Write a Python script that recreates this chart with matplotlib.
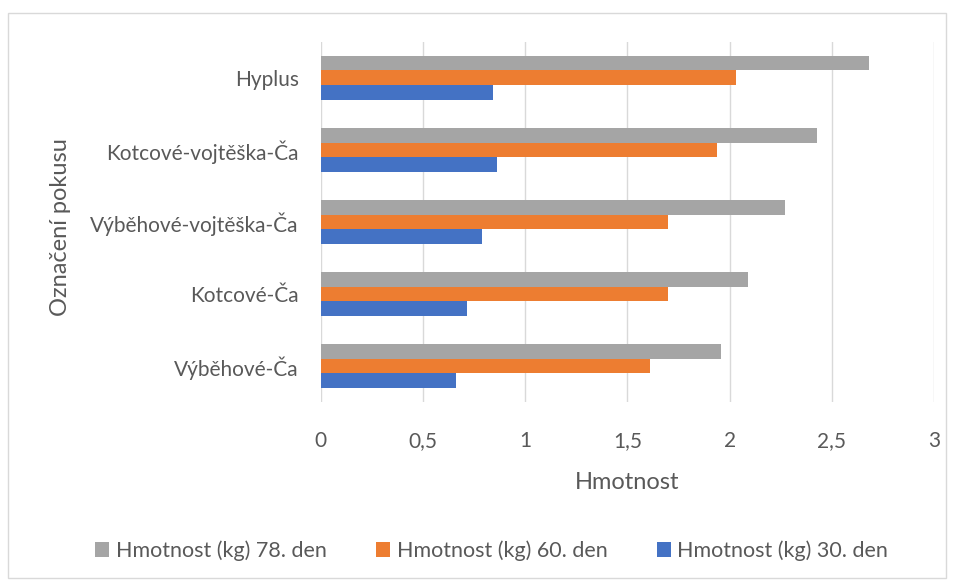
import numpy as np
import matplotlib.pyplot as plt
from matplotlib.patches import Rectangle

categories = ["Výběhové-Ča", "Kotcové-Ča", "Výběhové-vojtěška-Ča",
              "Kotcové-vojtěška-Ča", "Hyplus"]
den30 = [0.66, 0.715, 0.79, 0.86, 0.84]
den60 = [1.61, 1.70, 1.70, 1.94, 2.03]
den78 = [1.96, 2.09, 2.27, 2.43, 2.68]
series_names = ["Hmotnost (kg) 30. den", "Hmotnost (kg) 60. den", "Hmotnost (kg) 78. den"]
xticks = [0, 0.5, 1, 1.5, 2, 2.5, 3]
xtick_labels = ["0", "0,5", "1", "1,5", "2", "2,5", "3"]

plt.rcParams['font.family'] = ['Lato', 'DejaVu Sans']
text_col = '#595959'

fig = plt.figure(figsize=(9.55, 5.81), dpi=100)
fig.patches.append(Rectangle((0.008, 0.005), 0.983, 0.972, transform=fig.transFigure,
                             fill=False, edgecolor='#d9d9d9', linewidth=1))
ax = fig.add_axes([0.336, 0.308, 0.642, 0.62])

y = np.arange(len(categories))
h = 0.205
bars = []
bars.append(ax.barh(y - h, den30, height=h, color='#4472C4', label=series_names[0]))
bars.append(ax.barh(y, den60, height=h, color='#ED7D31', label=series_names[1]))
bars.append(ax.barh(y + h, den78, height=h, color='#A5A5A5', label=series_names[2]))

ax.set_xlim(0, 3)
ax.set_ylim(-0.5, len(categories) - 0.5)
ax.set_xticks(xticks)
ax.set_xticklabels(xtick_labels)
ax.set_yticks(y)
ax.set_yticklabels(categories)
ax.tick_params(length=0, labelsize=15, colors=text_col)
ax.tick_params(axis='x', pad=21)
ax.tick_params(axis='y', pad=16)
ax.grid(axis='x', color='#d9d9d9', linewidth=1)
ax.set_axisbelow(True)
for s in ax.spines.values():
    s.set_visible(False)

ax.set_xlabel("Hmotnost", fontsize=17, color=text_col, labelpad=15)
fig.text(0.063, 0.609, "Označení pokusu", rotation=90, fontsize=17,
         color=text_col, ha='center', va='center')

handles = [bars[2], bars[1], bars[0]]
labels = [series_names[2], series_names[1], series_names[0]]
fig.legend(handles, labels, loc='center', bbox_to_anchor=(0.515, 0.052), ncol=3,
           frameon=False, fontsize=15.5, labelcolor=text_col, handlelength=0.65,
           handleheight=0.65, handletextpad=0.3, columnspacing=2.3)

fig.savefig("out.png", dpi=100)
